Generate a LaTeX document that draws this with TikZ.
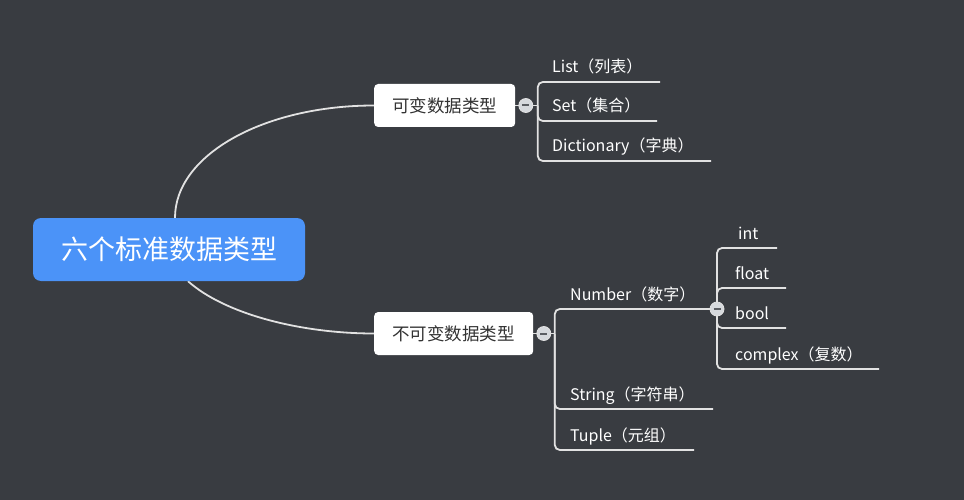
\documentclass[tikz,border=0pt]{standalone}
\usepackage{fontspec}
\setmainfont{Noto Sans CJK SC}
\usetikzlibrary{positioning, calc, backgrounds}
\definecolor{CBack}{HTML}{393C41}
\definecolor{CRoot}{HTML}{4B93F8}
\definecolor{CLine}{HTML}{E2E2E2}
\definecolor{CText}{HTML}{333333}
\definecolor{CToggle}{HTML}{D6D9DD}
\definecolor{CDash}{HTML}{5A5D62}

\tikzset{
  rootbox/.style={fill=CRoot, rounded corners=8pt, text=white, font=\fontsize{27}{30}\selectfont, minimum width=272pt, minimum height=63pt, inner sep=0pt},
  subbox/.style={fill=white, rounded corners=4pt, text=CText, font=\fontsize{17.5}{20}\selectfont, minimum height=43pt, inner xsep=17pt, inner ysep=0pt},
  leaf/.style={text=white, font=\fontsize{16}{19}\selectfont, inner sep=0pt, anchor=base west},
  branch/.style={CLine, line width=1.8pt},
  toggle/.style={circle, fill=CToggle, draw=CLine, line width=0.8pt, minimum size=14pt, inner sep=0pt},
  dashmark/.style={CDash, line width=2pt},
}

\begin{document}
\begin{tikzpicture}[x=1pt, y=-1pt]
    \useasboundingbox (0,0) rectangle (964,500);

    % Root and main topics
    \node[rootbox] (root) at (169,249.5) {六个标准数据类型};
    \node[subbox, anchor=west, minimum width=141pt] (mutable) at (374,105.5) {可变数据类型};
    \node[subbox, anchor=west, minimum width=159pt] (immutable) at (374,333.5) {不可变数据类型};

    % Collapse toggles
    \node[toggle, right=3pt of mutable] (tog-mut) {};
    \node[toggle, right=3pt of immutable] (tog-imm) {};
    \node[toggle] (tog-num) at (717,309) {};
    \draw[dashmark] ([xshift=-3.5pt]tog-mut.center) -- ([xshift=3.5pt]tog-mut.center);
    \draw[dashmark] ([xshift=-3.5pt]tog-imm.center) -- ([xshift=3.5pt]tog-imm.center);
    \draw[dashmark] ([xshift=-3.5pt]tog-num.center) -- ([xshift=3.5pt]tog-num.center);

    % Forks
    \coordinate (fork-mut) at ([xshift=12pt]tog-mut.center);
    \coordinate (fork-imm) at ([xshift=11pt]tog-imm.center);

    % Leaves
    \node[leaf] (list) at (552,73) {List（列表）};
    \node[leaf] (set) at (552,112) {Set（集合）};
    \node[leaf] (dict) at (552,152) {Dictionary（字典）};
    \node[leaf] (number) at (570,300) {Number（数字）};
    \node[leaf] (string) at (570,400) {String（字符串）};
    \node[leaf] (tuple) at (570,441) {Tuple（元组）};
    \node[leaf] (int) at (738,239) {int};
    \node[leaf] (float) at (735,279) {float};
    \node[leaf] (bool) at (735,319) {bool};
    \node[leaf] (complex) at (735,360) {complex（复数）};

    % Underline ends
    \coordinate (list-end) at (660,82);
    \coordinate (set-end) at (657,121);
    \coordinate (dict-end) at (711,161);
    \coordinate (string-end) at (713,409);
    \coordinate (tuple-end) at (694,450);
    \coordinate (int-end) at (777,248);
    \coordinate (float-end) at (786,288);
    \coordinate (bool-end) at (786,328);
    \coordinate (complex-end) at (879,369);

    \begin{scope}[on background layer]
        \fill[CBack] (0,0) rectangle (964,500);

        % Root branches
        \draw[branch] ([xshift=6pt]root.north) .. controls +(0,-63) and +(-110,0) .. (mutable.west);
        \draw[branch] ([xshift=19pt]root.south) .. controls +(37,33) and +(-73,0) .. (immutable.west);

        % Mutable types
        \draw[branch] (mutable.east) -- (fork-mut);
        \draw[branch, rounded corners=5pt] (fork-mut) |- (list-end);
        \draw[branch, rounded corners=5pt] (fork-mut) |- (set-end);
        \draw[branch, rounded corners=5pt] (fork-mut) |- (dict-end);

        % Immutable types
        \draw[branch] (immutable.east) -- (fork-imm);
        \draw[branch, rounded corners=5pt] (fork-imm) |- (tog-num.center);
        \draw[branch, rounded corners=5pt] (fork-imm) |- (string-end);
        \draw[branch, rounded corners=5pt] (fork-imm) |- (tuple-end);

        % Number types
        \draw[branch, rounded corners=5pt] (tog-num.center) |- (int-end);
        \draw[branch, rounded corners=5pt] (tog-num.center) |- (float-end);
        \draw[branch, rounded corners=5pt] (tog-num.center) |- (bool-end);
        \draw[branch, rounded corners=5pt] (tog-num.center) |- (complex-end);
    \end{scope}
\end{tikzpicture}
\end{document}
